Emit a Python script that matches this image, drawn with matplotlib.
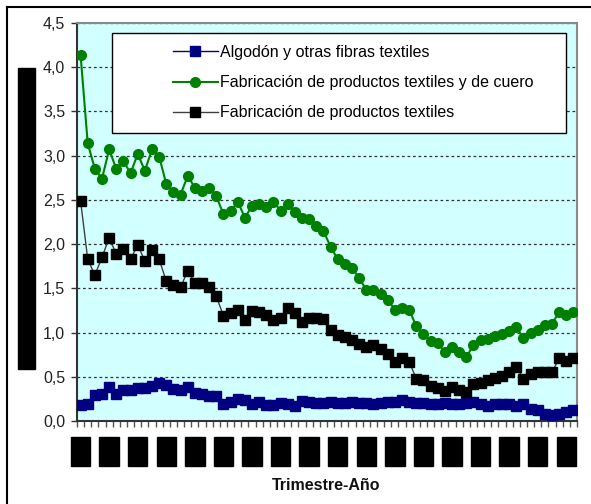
import numpy as np
import matplotlib
matplotlib.use("Agg")
import matplotlib.pyplot as plt
from matplotlib.lines import Line2D
from matplotlib.patches import Rectangle

# quarterly series, 70 quarters
algodon = [0.18, 0.19, 0.29, 0.31, 0.38, 0.31, 0.35, 0.35, 0.37, 0.37,
           0.40, 0.43, 0.41, 0.36, 0.35, 0.38, 0.32, 0.30, 0.28, 0.28,
           0.19, 0.22, 0.25, 0.24, 0.19, 0.22, 0.18, 0.18, 0.20, 0.19,
           0.17, 0.23, 0.21, 0.20, 0.20, 0.21, 0.20, 0.20, 0.21, 0.20,
           0.20, 0.19, 0.20, 0.21, 0.21, 0.24, 0.21, 0.20, 0.20, 0.19,
           0.19, 0.20, 0.19, 0.19, 0.20, 0.21, 0.19, 0.17, 0.19, 0.19,
           0.19, 0.17, 0.19, 0.14, 0.12, 0.08, 0.07, 0.08, 0.10, 0.12]
textil_cuero = [4.14, 3.14, 2.85, 2.74, 3.07, 2.85, 2.94, 2.80, 3.02, 2.83,
                3.07, 2.99, 2.68, 2.59, 2.56, 2.77, 2.64, 2.60, 2.64, 2.54,
                2.34, 2.37, 2.48, 2.30, 2.43, 2.45, 2.42, 2.48, 2.38, 2.45,
                2.36, 2.30, 2.28, 2.20, 2.15, 1.97, 1.83, 1.77, 1.73, 1.62,
                1.48, 1.48, 1.44, 1.37, 1.26, 1.28, 1.26, 1.07, 0.98, 0.91,
                0.88, 0.78, 0.84, 0.78, 0.72, 0.86, 0.92, 0.93, 0.96, 0.98,
                1.02, 1.06, 0.94, 1.00, 1.03, 1.08, 1.10, 1.23, 1.20, 1.23]
textil = [2.49, 1.83, 1.65, 1.85, 2.07, 1.89, 1.94, 1.83, 1.99, 1.81,
          1.93, 1.83, 1.58, 1.54, 1.51, 1.70, 1.56, 1.56, 1.51, 1.41,
          1.19, 1.22, 1.25, 1.14, 1.24, 1.23, 1.20, 1.14, 1.17, 1.28,
          1.22, 1.12, 1.17, 1.16, 1.15, 1.03, 0.97, 0.95, 0.92, 0.87,
          0.84, 0.86, 0.81, 0.76, 0.67, 0.71, 0.67, 0.48, 0.46, 0.40,
          0.37, 0.34, 0.38, 0.35, 0.33, 0.42, 0.43, 0.46, 0.49, 0.51,
          0.55, 0.61, 0.48, 0.53, 0.55, 0.55, 0.55, 0.71, 0.68, 0.71]
series_names = ["Algodón y otras fibras textiles",
                "Fabricación de productos textiles y de cuero",
                "Fabricación de productos textiles"]
year_labels = ["I-90", "I-91", "I-92", "I-93", "I-94", "I-95", "I-96", "I-97", "I-98",
               "I-99", "I-00", "I-01", "I-02", "I-03", "I-04", "I-05", "I-06", "I-07"]
y_ticks = [0.0, 0.5, 1.0, 1.5, 2.0, 2.5, 3.0, 3.5, 4.0, 4.5]

plt.rcParams["font.family"] = ["Liberation Sans", "DejaVu Sans"]

W, H = 591, 504
fig = plt.figure(figsize=(W / 100, H / 100), dpi=100)
ax = fig.add_axes([77 / W, 1 - 421 / H, 500 / W, 398 / H])
ax.set_facecolor("#d2ffff")

x = np.arange(len(textil))
ax.plot(x, algodon, color="#000080", lw=1, marker="s", ms=7.5, zorder=3)
ax.plot(x, textil_cuero, color="#008000", lw=1.5, marker="o", ms=7, zorder=3)
ax.plot(x, textil, color="#404040", lw=1, marker="s", ms=7.5, mfc="black", mec="black", zorder=3)

ax.set_xlim(-0.5, len(x) - 0.5)
ax.set_ylim(0, 4.5)
ax.set_yticks(y_ticks)
ax.set_yticklabels([f"{v:.1f}".replace(".", ",") for v in y_ticks], fontsize=11.5, color="#222")
ax.set_xticks([])
ax.set_xticks(np.arange(-0.5, len(x), 1), minor=True)
ax.tick_params(axis="y", length=4.5, width=1, color="#333", pad=4)
ax.tick_params(axis="x", which="minor", length=4, width=1, color="#555")
ax.yaxis.grid(True, linestyle=(0, (2.2, 2.2)), color="#333", lw=0.9)
ax.set_axisbelow(True)
for s in ("left", "bottom"):
    ax.spines[s].set_color("#333")
    ax.spines[s].set_linewidth(1.5)
for s in ("top", "right"):
    ax.spines[s].set_color("#888")
    ax.spines[s].set_linewidth(1.5)

# category labels (one per year), redacted as black boxes in the source
for i, lab in enumerate(year_labels):
    ax.text(i * 4, -0.0766, lab, transform=ax.get_xaxis_transform(), rotation=90,
            ha="center", va="center", fontsize=9, color="black",
            bbox=dict(boxstyle="square,pad=0.3", fc="black", ec="black"))

fig.text(26.5 / W, 1 - 218.5 / H, "Participación en la producción industrial nacional (%)",
         rotation=90, ha="center", va="center", fontsize=9, color="black",
         bbox=dict(boxstyle="square,pad=0.2", fc="black", ec="black"))

fig.text(326 / W, 1 - 486 / H, "Trimestre-Año", ha="center", va="center",
         fontsize=11.5, fontweight="bold", color="#111")

# legend box
ax.add_patch(Rectangle((112 / W, 1 - 133 / H), 454 / W, 100 / H, transform=fig.transFigure,
                       fc="white", ec="black", lw=1, zorder=5, clip_on=False))
handles = [Line2D([], [], color="#000080", lw=1, marker="s", ms=7.5),
           Line2D([], [], color="#008000", lw=1.5, marker="o", ms=7),
           Line2D([], [], color="#404040", lw=1, marker="s", ms=7.5, mfc="black", mec="black")]
leg = ax.legend(handles, series_names, loc="upper left", bbox_to_anchor=(165 / W, 1 - 37 / H),
                bbox_transform=fig.transFigure, frameon=False, fontsize=11.5,
                handlelength=2.8, handletextpad=0.15, labelspacing=0.95, borderpad=0)
leg.set_zorder(6)

fig.add_artist(Line2D([7 / W, 1], [1 - 7 / H, 1 - 7 / H], color="black", lw=1.5))
fig.add_artist(Line2D([7 / W, 7 / W], [0, 1 - 7 / H], color="black", lw=1.5))

fig.savefig("out.png", dpi=100)
